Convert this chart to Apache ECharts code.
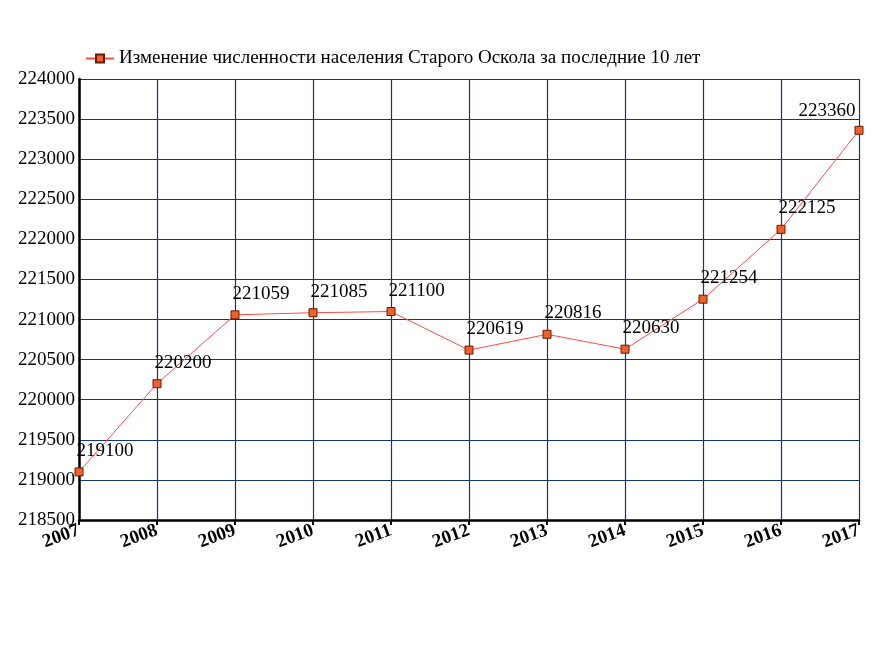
<!DOCTYPE html><html><head><meta charset="utf-8"><script src="https://cdn.jsdelivr.net/npm/echarts@6/dist/echarts.min.js"></script></head><body style="margin:0;background:#fff"><div id="c" style="width:884px;height:650px"></div><script>
const years=['2007','2008','2009','2010','2011','2012','2013','2014','2015','2016','2017'];
const population=[219100,220200,221059,221085,221100,220619,220816,220630,221254,222125,223360];
const seriesName='Изменение численности населения Старого Оскола за последние 10 лет';
const font='"Liberation Serif", "DejaVu Serif", serif';
const ch=echarts.init(document.getElementById('c'));
const data=population.map((v,i)=>i===population.length-1?{value:v,label:{position:[-56,-24]}}:v);
ch.setOption({animation:false,
legend:{top:44,left:80,itemWidth:28,itemHeight:10,itemGap:5,textStyle:{fontFamily:font,fontSize:19,color:'#000'},data:[seriesName]},
grid:{left:79,right:25,top:79,bottom:130},
xAxis:{type:'category',data:years,boundaryGap:false,
axisLine:{lineStyle:{color:'#000',width:2.5}},axisTick:{lineStyle:{color:'#000',width:2},length:5},
splitLine:{show:true,lineStyle:{color:'#0d3a75',width:1.2}},
axisLabel:{rotate:20,fontFamily:font,fontSize:19,fontWeight:'bold',color:'#000',margin:10,interval:0}},
yAxis:{type:'value',min:218500,max:224000,interval:500,
axisLine:{show:true,lineStyle:{color:'#000',width:2.5}},axisTick:{show:false},
splitLine:{lineStyle:{color:'#0d3a75',width:1.2}},
axisLabel:{fontFamily:font,fontSize:19,color:'#000',margin:4,formatter:v=>String(v)}},
series:[{name:seriesName,type:'line',data:data,symbol:'rect',symbolSize:8,
lineStyle:{color:'#ff4a4a',width:1},
itemStyle:{color:'#f0602a',borderColor:'#6b1a00',borderWidth:1},
label:{show:true,position:[2,-26],fontFamily:font,fontSize:19,color:'#000'}}]});
</script></body></html>
